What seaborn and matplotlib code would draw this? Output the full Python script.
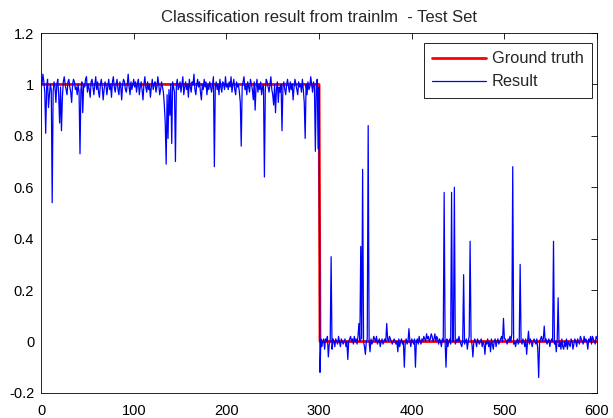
import numpy as np
import matplotlib
matplotlib.use("Agg")
import matplotlib.pyplot as plt
import seaborn as sns

# SECTION - DATA (in hundredths)
result_001_100 = [
    100, 104, 101, 97, 81, 99, 102, 91, 96, 100, 98, 54, 97, 101, 99, 93, 100, 102, 96, 85, 99, 82, 95, 101, 103, 100, 98, 96, 101, 102,
    99, 97, 93, 100, 102, 101, 98, 99, 96, 100, 97, 73, 98, 101, 89, 100, 99, 102, 103, 97,
    100, 98, 95, 101, 102, 99, 96, 100, 103, 98, 101, 97, 95, 100, 102, 99, 94, 98, 101, 100,
    96, 99, 102, 98, 100, 95, 101, 103, 99, 97, 100, 102, 98, 96, 101, 99, 94, 100, 102, 101,
    98, 97, 100, 104, 99, 96, 101, 98, 100, 102,
]
result_101_200 = [
    99, 101, 97, 100, 102, 96, 99, 101, 98, 94, 100, 103, 99, 97, 101, 98, 100, 95, 99, 102,
    98, 100, 101, 97, 99, 103, 100, 96, 98, 101, 99, 97, 92, 85, 69, 96, 79, 98, 88, 100,
    77, 101, 99, 97, 70, 100, 102, 98, 99, 101, 97, 100, 103, 96, 99, 101, 98, 100, 95, 102,
    99, 97, 101, 100, 104, 98, 96, 100, 102, 99, 101, 97, 94, 100, 98, 102, 99, 101, 96, 100,
    98, 101, 99, 97, 100, 103, 68, 99, 101, 98, 100, 96, 102, 99, 97, 101, 100, 98, 103, 99,
]
result_201_300 = [
    100, 98, 101, 99, 103, 97, 100, 102, 98, 96, 101, 99, 100, 97, 93, 76, 99, 101, 103, 98,
    100, 96, 101, 99, 97, 102, 100, 98, 94, 101, 90, 99, 102, 97, 100, 98, 101, 96, 99, 100,
    64, 98, 102, 101, 99, 97, 100, 103, 98, 96, 92, 100, 89, 98, 101, 93, 99, 97, 100, 82,
    99, 101, 98, 96, 100, 102, 99, 97, 101, 98, 100, 94, 99, 102, 100, 98, 96, 101, 99, 100,
    97, 102, 98, 93, 79, 100, 96, 101, 98, 99, 103, 100, 97, 101, 99, 74, 100, 102, 75, 99,
]
result_301_400 = [
    -12, 1, -2, 0, 1, -3, 1, 0, 2, -6, -1, 0, 33, -3, 1, 0, -2, 1, 0, -1,
    2, 0, -2, 1, 0, -1, 0, 1, -2, 0, -7, 0, 1, 2, 0, 1, -1, 2, 0, 1,
    -1, 2, 7, 0, 37, 1, 67, 0, -2, -5, 0, 1, 84, 0, -4, 1, -1, 0, 2, 1,
    0, 2, -1, 0, 1, -2, 0, 1, -1, 0, 1, 0, 7, 1, 0, 2, 1, 0, -1, 0,
    1, 0, -1, 0, -4, 1, -2, 0, 1, -1, 0, -10, 0, 1, -1, 0, 5, 0, -2, 1,
]
result_401_500 = [
    0, -1, 1, -10, 0, 1, -1, 2, 0, -1, 1, 0, 2, 1, 0, 3, 1, 2, 0, 1,
    3, 2, 0, 1, 3, 0, 2, 1, -1, 1, 0, -2, 1, 0, 58, 0, -10, 1, -2, 0,
    1, -1, 58, 0, 0, 60, -1, 0, 1, 0, 2, 0, -1, -2, 0, 26, -1, 0, 1, -3,
    0, 2, 39, 1, -1, -6, 0, 1, 0, -2, 1, 0, -1, 0, 1, -2, 0, -1, -5, 0,
    -1, 1, -2, 0, -4, 1, -1, -3, 0, 1, -2, 0, 1, -1, 0, 1, 2, 0, 9, 1,
]
result_501_600 = [
    1, 0, -1, 1, 0, 2, 0, 3, 68, -1, 0, -2, 0, 1, -1, 0, 30, 0, -1, 1,
    0, -2, 1, -5, 0, 4, -1, 1, 0, -2, 0, 1, 0, -1, 1, -3, -14, 0, 1, 2,
    0, 1, 6, 0, 1, -1, 0, 1, -2, 0, 1, 0, 39, -1, 0, -4, 1, 17, -2, 0,
    -3, 1, -2, -3, 0, -2, 1, -3, 0, -1, -2, 1, 0, -3, -1, 1, 0, -2, 1, 0,
    -1, 2, 1, 0, -1, 2, 0, 1, 0, -3, 1, 0, 2, -1, 2, 1, 0, -1, 2, 1,
]
truth_levels = [1, 0]
truth_counts = [300, 300]
x_ticks = [0, 100, 200, 300, 400, 500, 600]
y_ticks = [-0.2, 0, 0.2, 0.4, 0.6, 0.8, 1, 1.2]
# !SECTION

result = np.concatenate([result_001_100, result_101_200, result_201_300,
                         result_301_400, result_401_500, result_501_600]) / 100
truth = np.repeat(truth_levels, truth_counts)
samples = np.arange(1, len(result) + 1)

# SECTION - STYLE
sns.set_style("white")
plt.rcParams["font.family"] = ["Liberation Sans", "DejaVu Sans"]
plt.rcParams["axes.unicode_minus"] = False
plt.rcParams["xtick.direction"] = "in"
plt.rcParams["ytick.direction"] = "in"
# !SECTION

fig = plt.figure(figsize=(6.13, 4.18), dpi=100)
ax = fig.add_axes([0.067, 0.06, 0.907, 0.861])

sns.lineplot(ax=ax, x=samples, y=truth, color="red", linewidth=2, label="Ground truth")
sns.lineplot(ax=ax, x=samples, y=result, color="blue", linewidth=0.9, label="Result")

ax.set_xlim(0, 600)
ax.set_ylim(-0.2, 1.2)
ax.set_xticks(x_ticks)
ax.set_yticks(y_ticks)
ax.set_xticklabels([f"{t:g}" for t in x_ticks], fontsize=10.5)
ax.set_yticklabels([f"{t:g}" for t in y_ticks], fontsize=10.5)
ax.tick_params(axis="x", top=True, length=4, width=0.6, colors="black", pad=8)
ax.tick_params(axis="y", right=True, length=4, width=0.6, colors="black", pad=5)
for sp in ax.spines.values():
    sp.set_color("black")
    sp.set_linewidth(0.6)
ax.set_title("Classification result from trainlm  - Test Set", fontsize=12, pad=8)

leg = ax.legend(loc="upper right", bbox_to_anchor=(0.991, 0.972), borderaxespad=0,
                fontsize=11.8, fancybox=False, framealpha=1, edgecolor="black",
                handlelength=3.3, handletextpad=0.35, borderpad=0.5, labelspacing=0.5)
leg.get_frame().set_linewidth(0.6)

fig.savefig("out.png", dpi=100)
